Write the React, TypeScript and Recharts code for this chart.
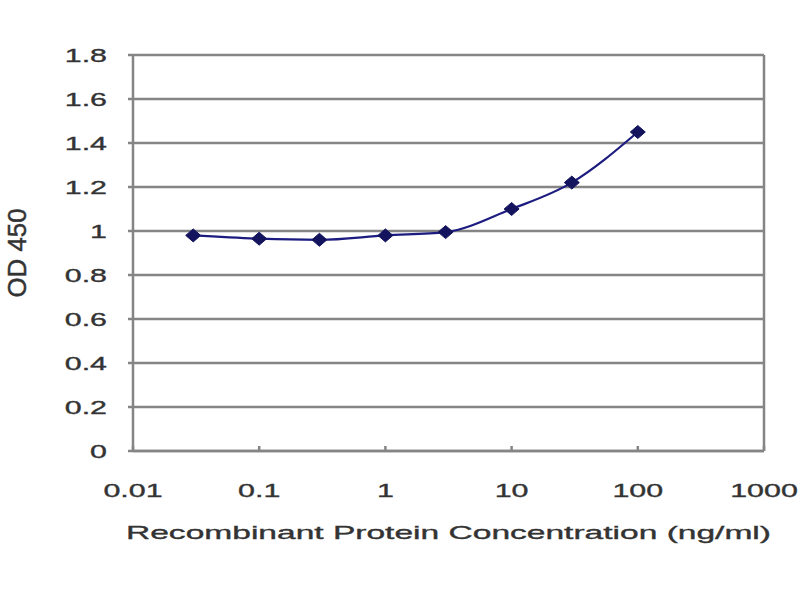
import { LineChart, Line, XAxis, YAxis, CartesianGrid, ReferenceLine } from "recharts";

// concentration (ng/ml) and measured OD 450
const concentrations = [0.03, 0.1, 0.3, 1, 3, 10, 30, 100];
const odValues = [0.98, 0.965, 0.96, 0.98, 0.995, 1.1, 1.22, 1.45];

const xTicks = [0.01, 0.1, 1, 10, 100, 1000];
const yTicks = [0, 0.2, 0.4, 0.6, 0.8, 1, 1.2, 1.4, 1.6, 1.8];

const xLabel = "Recombinant Protein Concentration (ng/ml)";
const yLabel = "OD 450";

const data = concentrations.map((c, i) => ({ conc: c, od: odValues[i] }));

const FONT = "'Liberation Sans', Arial, sans-serif";
const TEXT = "#333333";
const GRID = "#858585";
const NAVY = "#1c1c80";

const XTick = (props: any) => {
  const { x, y, payload } = props;
  return (
    <text
      transform={`translate(${x},${y}) scale(1.6,1)`}
      textAnchor="middle"
      dy="0.71em"
      fontSize={19}
      fill={TEXT}
      stroke={TEXT}
      strokeWidth={0.35}
      fontFamily={FONT}
    >
      {payload.value}
    </text>
  );
};

const YTick = (props: any) => {
  const { x, y, payload } = props;
  return (
    <text
      transform={`translate(${x},${y}) scale(1.6,1)`}
      textAnchor="end"
      dy="0.355em"
      fontSize={19}
      fill={TEXT}
      stroke={TEXT}
      strokeWidth={0.35}
      fontFamily={FONT}
    >
      {payload.value}
    </text>
  );
};

const Diamond = (props: any) => {
  const { cx, cy } = props;
  if (cx == null || cy == null) return null;
  return (
    <polygon
      points={`${cx},${cy - 6.5} ${cx + 7.5},${cy} ${cx},${cy + 6.5} ${cx - 7.5},${cy}`}
      fill="#14145e"
      stroke="#14145e"
      strokeWidth={1}
    />
  );
};

export default function App() {
  return (
    <div style={{ position: "absolute", left: 0, top: 0, width: 800, height: 600, background: "#fff" }}>
      <LineChart
        width={800}
        height={600}
        data={data}
        margin={{ top: 55, right: 36, bottom: 109, left: 0 }}
      >
        <CartesianGrid vertical={false} stroke={GRID} strokeWidth={2.5} />
        <XAxis
          dataKey="conc"
          type="number"
          scale="log"
          domain={[0.01, 1000]}
          ticks={xTicks}
          allowDataOverflow
          height={40}
          stroke={GRID}
          strokeWidth={2.5}
          tickSize={-5}
          tickMargin={38}
          tick={<XTick />}
          label={{
            content: (p: any) => {
              const vb = p.viewBox;
              return (
                <text
                  x={vb.x + vb.width / 2}
                  y={539}
                  textAnchor="middle"
                  fontSize={19}
                  fill={TEXT}
                  stroke={TEXT}
                  strokeWidth={0.35}
                  fontFamily={FONT}
                  textLength={645}
                  lengthAdjust="spacingAndGlyphs"
                >
                  {xLabel}
                </text>
              );
            },
          }}
        />
        <YAxis
          type="number"
          domain={[0, 1.8]}
          ticks={yTicks}
          width={133}
          stroke={GRID}
          strokeWidth={2.5}
          tickSize={5}
          tickMargin={21}
          tick={<YTick />}
          label={{
            content: (p: any) => {
              const vb = p.viewBox;
              return (
                <text
                  transform={`translate(17,${vb.y + vb.height / 2}) rotate(-90) scale(1,1.4)`}
                  textAnchor="middle"
                  dy="0.355em"
                  fontSize={19}
                  fill={TEXT}
                  stroke={TEXT}
                  strokeWidth={0.35}
                  fontFamily={FONT}
                  textLength={89}
                  lengthAdjust="spacingAndGlyphs"
                >
                  {yLabel}
                </text>
              );
            },
          }}
        />
        <ReferenceLine x={1000} stroke={GRID} strokeWidth={2.5} />
        <Line
          dataKey="od"
          type="monotone"
          stroke={NAVY}
          strokeWidth={2.2}
          dot={<Diamond />}
          activeDot={false}
          isAnimationActive={false}
        />
      </LineChart>
    </div>
  );
}
